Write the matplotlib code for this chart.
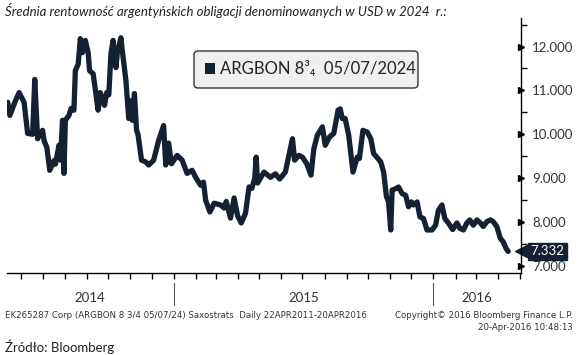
import matplotlib
matplotlib.use("Agg")
import matplotlib.pyplot as plt
import matplotlib.dates as mdates
import matplotlib.transforms as mtransforms
from matplotlib.patches import FancyBboxPatch, Rectangle
import pandas as pd

# ---------------- data ----------------
dates = [
    "2014-05-13", "2014-05-16", "2014-05-24", "2014-05-29", "2014-06-05", "2014-06-10",
    "2014-06-17", "2014-06-20", "2014-06-24", "2014-07-01", "2014-07-03", "2014-07-07",
    "2014-07-11", "2014-07-17", "2014-07-19", "2014-07-24", "2014-07-26", "2014-07-29",
    "2014-07-31", "2014-08-02", "2014-08-07", "2014-08-10", "2014-08-14", "2014-08-16",
    "2014-08-20", "2014-08-23", "2014-08-26", "2014-08-30", "2014-09-03", "2014-09-05",
    "2014-09-10", "2014-09-17", "2014-09-20", "2014-09-26", "2014-09-29", "2014-10-02",
    "2014-10-05", "2014-10-08", "2014-10-12", "2014-10-14", "2014-10-19", "2014-10-21",
    "2014-10-26", "2014-10-30", "2014-11-03", "2014-11-04", "2014-11-07", "2014-11-10",
    "2014-11-12", "2014-11-17", "2014-11-23", "2014-11-27", "2014-12-04", "2014-12-11",
    "2014-12-18", "2014-12-21", "2014-12-25", "2014-12-29", "2015-01-06", "2015-01-13",
    "2015-01-20", "2015-01-27", "2015-02-01", "2015-02-08", "2015-02-12", "2015-02-15",
    "2015-02-21", "2015-02-27", "2015-03-08", "2015-03-13", "2015-03-16", "2015-03-22",
    "2015-03-27", "2015-04-01", "2015-04-06", "2015-04-12", "2015-04-17", "2015-04-21",
    "2015-04-25", "2015-04-27", "2015-04-29", "2015-05-08", "2015-05-17", "2015-05-24",
    "2015-05-30", "2015-06-07", "2015-06-17", "2015-06-20", "2015-06-26", "2015-07-01",
    "2015-07-07", "2015-07-13", "2015-07-17", "2015-07-22", "2015-07-29", "2015-08-02",
    "2015-08-08", "2015-08-14", "2015-08-20", "2015-08-23", "2015-08-26", "2015-08-30",
    "2015-09-04", "2015-09-10", "2015-09-16", "2015-09-19", "2015-09-24", "2015-09-30",
    "2015-10-05", "2015-10-09", "2015-10-15", "2015-10-19", "2015-10-23", "2015-10-27",
    "2015-10-30", "2015-11-02", "2015-11-04", "2015-11-09", "2015-11-13", "2015-11-18",
    "2015-11-23", "2015-11-27", "2015-12-01", "2015-12-04", "2015-12-09", "2015-12-13",
    "2015-12-18", "2015-12-23", "2015-12-30", "2016-01-04", "2016-01-08", "2016-01-13",
    "2016-01-17", "2016-01-22", "2016-01-28", "2016-02-03", "2016-02-07", "2016-02-12",
    "2016-02-17", "2016-02-21", "2016-02-26", "2016-03-02", "2016-03-07", "2016-03-11",
    "2016-03-16", "2016-03-21", "2016-03-25", "2016-03-30", "2016-04-04", "2016-04-08",
    "2016-04-12", "2016-04-15",
]
yields = [
    10.73, 10.43, 10.77, 10.95, 10.73, 10.02,
    10.00, 11.25, 9.90, 10.09, 9.86, 9.70,
    9.18, 9.40, 9.32, 9.75, 9.41, 10.32,
    9.11, 10.32, 10.43, 10.59, 10.55, 11.45,
    11.60, 12.18, 11.86, 12.14, 11.86, 11.45,
    11.38, 10.55, 10.95, 10.66, 10.95, 10.90,
    11.84, 12.14, 11.52, 11.86, 12.20, 11.90,
    11.23, 10.36, 10.77, 10.32, 10.93, 10.09,
    10.00, 9.41, 9.37, 9.30, 9.41, 9.86,
    10.20, 9.30, 9.80, 9.33, 9.52, 9.41,
    9.11, 9.18, 9.02, 8.84, 8.91, 8.50,
    8.23, 8.43, 8.39, 8.32, 8.47, 8.09,
    8.55, 8.14, 7.98, 8.20, 8.80, 8.77,
    9.00, 9.48, 8.89, 9.14, 9.02, 9.10,
    8.98, 9.14, 9.90, 9.41, 9.52, 9.48,
    9.33, 9.07, 9.67, 9.98, 10.17, 9.75,
    9.94, 10.02, 10.55, 10.58, 10.36, 10.36,
    9.98, 9.14, 9.48, 9.45, 10.09, 10.05,
    9.90, 9.56, 9.45, 9.37, 9.14, 8.58,
    8.46, 7.82, 8.73, 8.76, 8.80, 8.65,
    8.61, 8.35, 8.46, 8.39, 8.46, 8.12,
    8.08, 7.82, 7.82, 7.93, 8.27, 8.39,
    8.08, 7.98, 7.83, 7.98, 7.86, 7.82,
    7.98, 8.05, 7.93, 8.05, 7.98, 7.90,
    8.01, 8.05, 8.01, 7.90, 7.63, 7.55,
    7.40, 7.332,
]
major_yticks = [7, 8, 9, 10, 11, 12]
minor_yticks = [7.5, 8.5, 9.5, 10.5, 11.5, 12.5]
year_labels = ["2014", "2015", "2016"]
year_starts = ["2015-01-01", "2016-01-01"]
x_range = ["2014-05-12", "2016-05-03"]
y_range = [6.84, 12.65]
series_name = "ARGBON 8\u00b3\u2084  05/07/2024"

title = "Średnia rentowność argentyńskich obligacji denominowanych w USD w 2024  r.:"
foot_left = "EK265287 Corp (ARGBON 8 3/4 05/07/24) Saxostrats  Daily 22APR2011-20APR2016"
foot_right1 = "Copyright\u00a9 2016 Bloomberg Finance L.P."
foot_right2 = "20-Apr-2016 10:48:13"
source = "Źródło: Bloomberg"

# ---------------- style ----------------
NAVY = "#142132"
TXT = "#333333"
W, H = 578, 355
FONT = ["Lato", "DejaVu Sans"]

x = pd.to_datetime(dates)
xr = pd.to_datetime(x_range)
ys = pd.to_datetime(year_starts)

fig = plt.figure(figsize=(W / 100, H / 100), dpi=100)
fig.patch.set_facecolor("white")
ax = fig.add_axes([7 / W, 1 - 273 / H, (521 - 7) / W, (273 - 18) / H])

ax.plot(x, yields, color=NAVY, lw=3.8, solid_joinstyle="round", solid_capstyle="round")

ax.set_xlim(xr[0], xr[1])
ax.set_ylim(*y_range)

for s in ["top", "left"]:
    ax.spines[s].set_visible(False)
for s in ["right", "bottom"]:
    ax.spines[s].set_color("black")
    ax.spines[s].set_linewidth(1.0)

# y axis on the right
ax.yaxis.tick_right()
ax.set_yticks(major_yticks)
ax.set_yticklabels([f"{v:.3f}" for v in major_yticks], fontsize=9.5, color=TXT, family=FONT)
ax.set_yticks(minor_yticks, minor=True)
ax.tick_params(axis="y", which="major", length=0, pad=8)
ax.tick_params(axis="y", which="minor", length=4, width=1, color="black", direction="out")
# arrow-like major ticks
yb = mtransforms.blended_transform_factory(ax.transAxes, ax.transData)
ax.plot([1.0] * len(major_yticks), major_yticks, ls="none", marker=">", ms=4.5,
        color="black", transform=yb, clip_on=False)

# x axis: month ticks, no labels
ax.xaxis.set_major_locator(mdates.MonthLocator())
ax.xaxis.set_major_formatter(plt.NullFormatter())
ax.tick_params(axis="x", which="major", length=4, width=1, color="black", direction="out")

# year separators and labels
xb = mtransforms.blended_transform_factory(ax.transData, ax.transAxes)
for d in ys:
    ax.plot([d, d], [-0.04, -0.125], color="#555555", lw=0.8, transform=xb, clip_on=False)
bounds = [xr[0]] + list(ys) + [xr[1]]
for i, lab in enumerate(year_labels):
    mid = bounds[i] + (bounds[i + 1] - bounds[i]) / 2
    ax.text(mid, -0.1, lab, transform=xb, ha="center", va="center",
            fontsize=9.5, color=TXT, family=FONT)

# last value tag
last = yields[-1]
ax.plot([1.0], [last], ls="none", marker="<", ms=9, color=NAVY, transform=yb, clip_on=False)
ax.annotate(f"{last:.3f}", xy=(1.0, last), xycoords=yb, xytext=(7, 0),
            textcoords="offset points", ha="left", va="center", color="white",
            fontsize=9.5, family=FONT,
            bbox=dict(boxstyle="square,pad=0.18", fc=NAVY, ec=NAVY))

# legend box
box = FancyBboxPatch((194 / W, 1 - 88 / H), 224 / W, 37 / H,
                     boxstyle=f"round,pad=0,rounding_size={4 / W}",
                     mutation_aspect=W / H, transform=fig.transFigure,
                     fc="#efefef", ec="#333333", lw=1.0)
fig.patches.append(box)
fig.patches.append(Rectangle((205 / W, 1 - 74 / H), 10 / W, 11 / H,
                             transform=fig.transFigure, fc=NAVY, ec="none"))
fig.text(220 / W, 1 - 69 / H, series_name, ha="left", va="center",
         fontsize=12, color="#222222", family=FONT)

# texts
fig.text(5 / W, 1 - 10 / H, title, ha="left", va="center", fontsize=9.5,
         style="italic", color="#222222", family=FONT)
fig.text(5 / W, 1 - 315 / H, foot_left, ha="left", va="center", fontsize=6.2,
         color=TXT, family=["DejaVu Sans"])
fig.text(573 / W, 1 - 315 / H, foot_right1, ha="right", va="center", fontsize=6.2,
         color=TXT, family=["DejaVu Sans"])
fig.text(573 / W, 1 - 328 / H, foot_right2, ha="right", va="center", fontsize=6.2,
         color=TXT, family=["DejaVu Sans"])
fig.text(5 / W, 1 - 347 / H, source, ha="left", va="center", fontsize=9.5,
         color="#222222", family=FONT)

fig.savefig("out.png", dpi=100, facecolor="white")
